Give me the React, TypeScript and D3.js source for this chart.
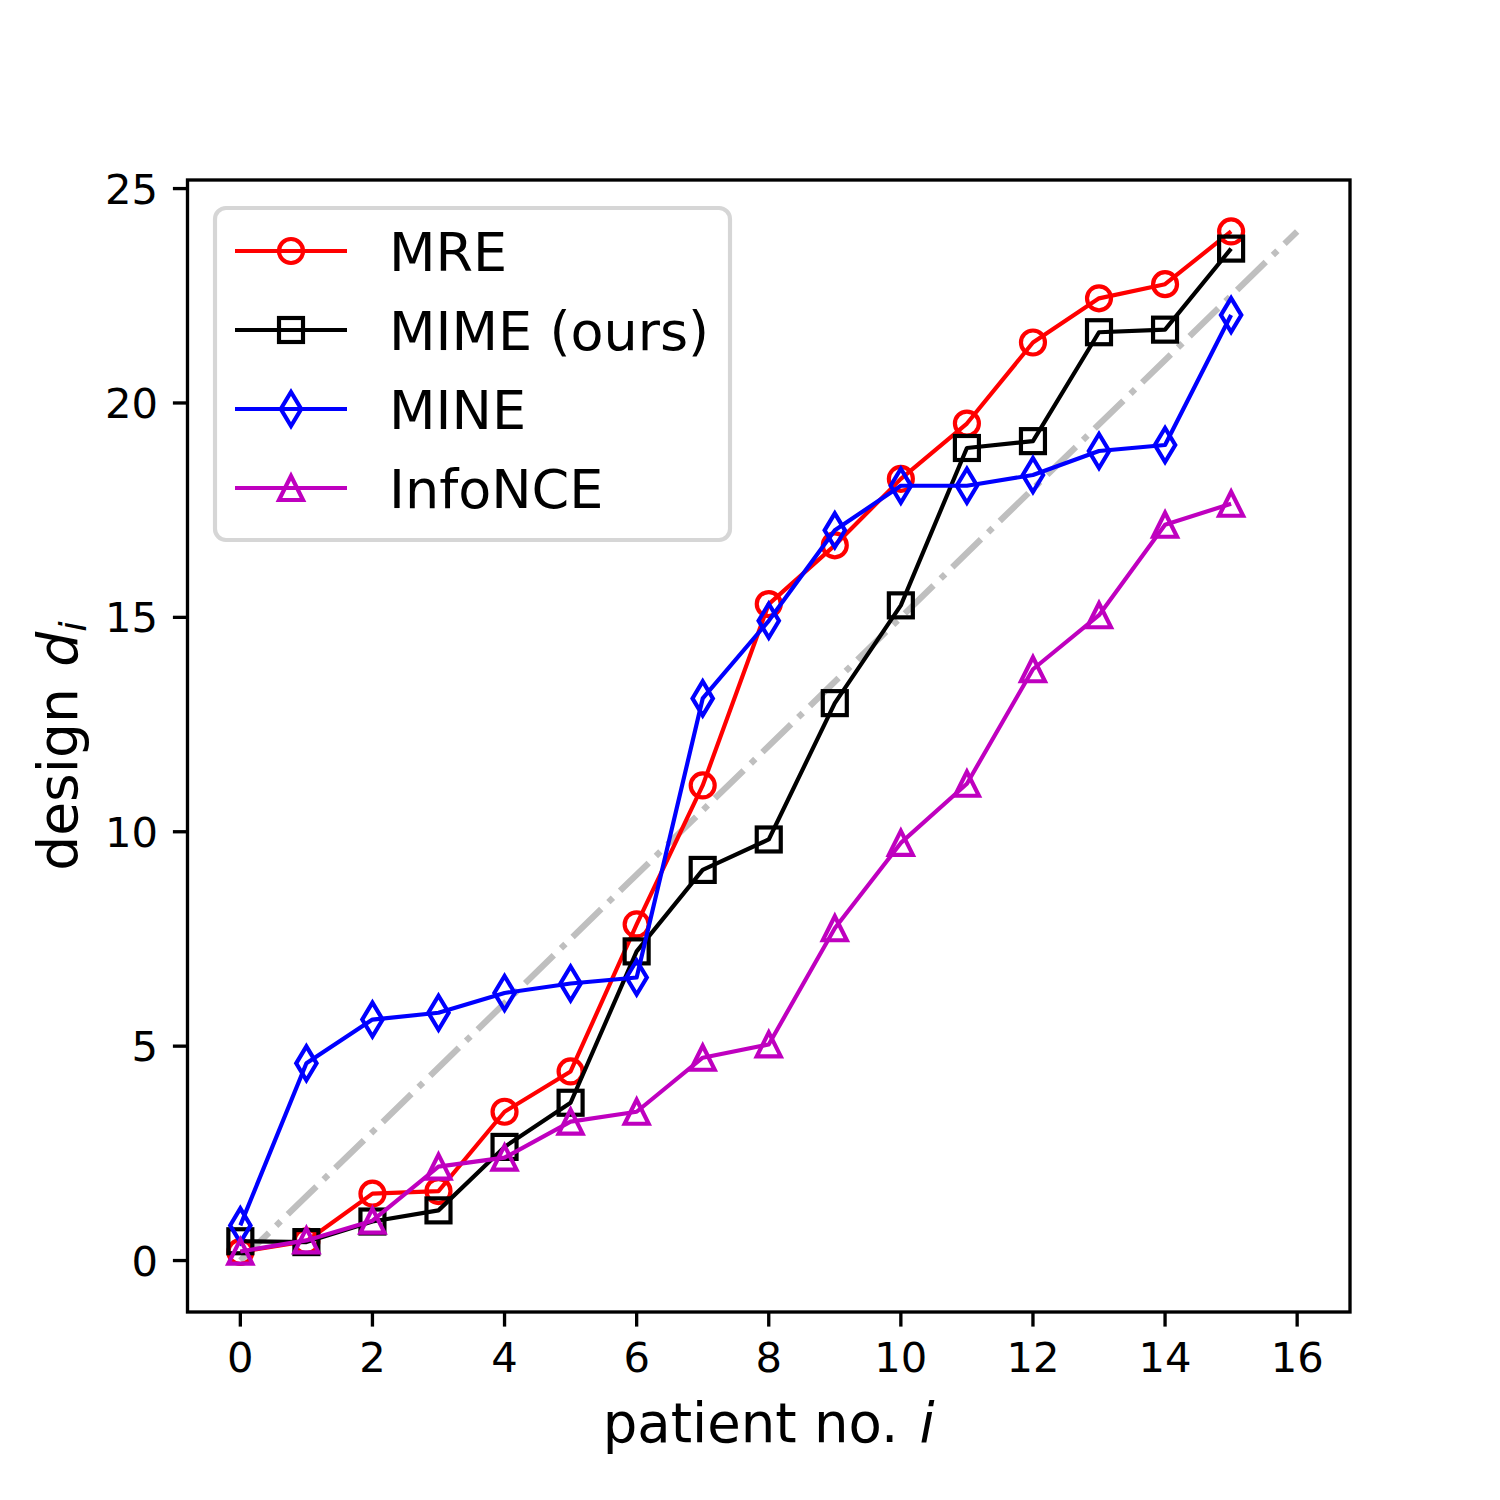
import React from "react";
import * as d3 from "d3";

const patients = [0, 1, 2, 3, 4, 5, 6, 7, 8, 9, 10, 11, 12, 13, 14, 15];
const mre = [0.2, 0.45, 1.56, 1.62, 3.47, 4.41, 7.84, 11.08, 15.31, 16.68, 18.23, 19.52, 21.41, 22.44, 22.77, 24.0];
const mime = [0.45, 0.43, 0.91, 1.17, 2.65, 3.68, 7.21, 9.11, 9.82, 13.0, 15.28, 18.95, 19.11, 21.65, 21.71, 23.6];
const mine = [0.82, 4.6, 5.62, 5.78, 6.24, 6.46, 6.6, 13.11, 14.92, 17.03, 18.07, 18.07, 18.32, 18.88, 19.02, 22.05];
const infonce = [0.21, 0.47, 0.93, 2.19, 2.4, 3.24, 3.47, 4.73, 5.04, 7.75, 9.74, 11.12, 13.79, 15.05, 17.16, 17.65];
const refLineX = [0, 16];
const refLineY = [0, 24];

const xTicks = [0, 2, 4, 6, 8, 10, 12, 14, 16];
const yTicks = [0, 5, 10, 15, 20, 25];

const seriesNames = ["MRE", "MIME (ours)", "MINE", "InfoNCE"];
const seriesColors = ["#ff0000", "#000000", "#0000ff", "#bf00bf"];
const seriesMarkers = ["circle", "square", "thin_diamond", "triangle"];
const seriesValues = [mre, mime, mine, infonce];

const FONT = "DejaVu Sans";
const LW = 4.17;

function Marker({ kind, x, y, color }: { kind: string; x: number; y: number; color: string }) {
  const common = { fill: "none", stroke: color, strokeWidth: LW, strokeLinejoin: "miter" as const };
  if (kind === "circle") return <circle cx={x} cy={y} r={12} {...common} />;
  if (kind === "square") return <rect x={x - 12} y={y - 12} width={24} height={24} {...common} />;
  if (kind === "thin_diamond")
    return <path d={`M${x},${y - 17}L${x + 10.2},${y}L${x},${y + 17}L${x - 10.2},${y}Z`} {...common} />;
  return <path d={`M${x},${y - 12}L${x + 12},${y + 12}L${x - 12},${y + 12}Z`} {...common} />;
}

export default function App() {
  const left = 187.5, right = 1350, top = 180, bottom = 1312;
  const x = d3.scaleLinear().domain([-0.8, 16.8]).range([left, right]);
  const y = d3.scaleLinear().domain([-1.2, 25.2]).range([bottom, top]);
  const line = d3.line<[number, number]>().x((d) => x(d[0])).y((d) => y(d[1]));
  const refPts: [number, number][] = refLineX.map((v, i) => [v, refLineY[i]]);

  const legendRowY = (i: number) => 251 + i * 79;

  return (
    <svg width={1500} height={1500} style={{ position: "absolute", left: 0, top: 0, background: "#fff" }} fontFamily={FONT}>
      <rect x={0} y={0} width={1500} height={1500} fill="#fff" />
      <path d={line(refPts) || ""} fill="none" stroke="#bfbfbf" strokeWidth={6.25} strokeDasharray="40 10 6.25 10" />
      {seriesValues.map((vals, si) => {
        const pts: [number, number][] = patients.map((p, i) => [p, vals[i]]);
        return (
          <g key={si}>
            <path d={line(pts) || ""} fill="none" stroke={seriesColors[si]} strokeWidth={LW} strokeLinejoin="round" />
            {pts.map((p, i) => (
              <Marker key={i} kind={seriesMarkers[si]} x={x(p[0])} y={y(p[1])} color={seriesColors[si]} />
            ))}
          </g>
        );
      })}
      {/* frame */}
      <rect x={left} y={top} width={right - left} height={bottom - top} fill="none" stroke="#000" strokeWidth={3.33} />
      {/* x ticks */}
      {xTicks.map((t) => (
        <g key={"x" + t}>
          <line x1={x(t)} x2={x(t)} y1={bottom} y2={bottom + 14.6} stroke="#000" strokeWidth={3.33} />
          <text x={x(t)} y={1372} fontSize={41.7} textAnchor="middle">{t}</text>
        </g>
      ))}
      {yTicks.map((t) => (
        <g key={"y" + t}>
          <line x1={left - 14.6} x2={left} y1={y(t)} y2={y(t)} stroke="#000" strokeWidth={3.33} />
          <text x={158} y={y(t) + 15} fontSize={41.7} textAnchor="end">{t}</text>
        </g>
      ))}
      {/* axis labels */}
      <text x={(left + right) / 2} y={1442} fontSize={54.5} textAnchor="middle">
        patient no. <tspan fontStyle="italic" dx={4}>i</tspan>
      </text>
      <text transform={`translate(77,${(top + bottom) / 2}) rotate(-90)`} fontSize={55} textAnchor="middle">
        design <tspan fontStyle="italic" dx={4}>d</tspan>
        <tspan fontStyle="italic" fontSize={38} dy={9}>i</tspan>
      </text>
      {/* legend */}
      <rect x={215} y={208} width={515} height={332} rx={11} ry={11} fill="#fff" fillOpacity={0.8} stroke="#d6d6d6" strokeWidth={4.17} />
      {seriesNames.map((name, i) => (
        <g key={name}>
          <line x1={235} x2={347} y1={legendRowY(i)} y2={legendRowY(i)} stroke={seriesColors[i]} strokeWidth={LW} />
          <Marker kind={seriesMarkers[i]} x={291} y={legendRowY(i)} color={seriesColors[i]} />
          <text x={389} y={legendRowY(i) + 19.5} fontSize={54}>{name}</text>
        </g>
      ))}
    </svg>
  );
}
